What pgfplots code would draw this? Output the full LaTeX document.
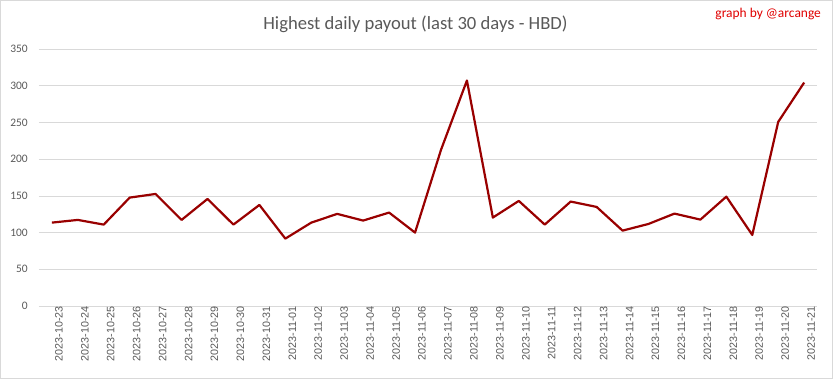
\documentclass[border=0pt]{standalone}
\usepackage{pgfplots}
\pgfplotsset{compat=1.18}
\usepackage{fontspec}
\setmainfont{Carlito}
\newfontfamily\xlabfont{Liberation Sans}
\definecolor{linecol}{HTML}{990000}
\definecolor{gridcol}{HTML}{D9D9D9}
\definecolor{txtcol}{HTML}{595959}
\definecolor{sigcol}{HTML}{E00000}
\begin{document}
\begin{tikzpicture}
\draw[gridcol, line width=0.75bp] (0.5bp,0.5bp) rectangle (832.5bp,378.5bp);
\begin{axis}[
  at={(39bp,73bp)}, anchor=south west,
  scale only axis, width=778bp, height=256.7bp,
  xmin=-0.5, xmax=29.5, ymin=0, ymax=350,
  ytick={0,50,...,350},
  xtick={0,...,29},
  xticklabels={2023-10-23,2023-10-24,2023-10-25,2023-10-26,2023-10-27,2023-10-28,2023-10-29,2023-10-30,2023-10-31,2023-11-01,2023-11-02,2023-11-03,2023-11-04,2023-11-05,2023-11-06,2023-11-07,2023-11-08,2023-11-09,2023-11-10,2023-11-11,2023-11-12,2023-11-13,2023-11-14,2023-11-15,2023-11-16,2023-11-17,2023-11-18,2023-11-19,2023-11-20,2023-11-21},
  x tick label style={rotate=90, anchor=east, font=\xlabfont\fontsize{10.8}{13}\selectfont, text=txtcol, inner sep=0pt, yshift=-7bp},
  y tick label style={font=\fontsize{11.5}{13}\selectfont, text=txtcol, inner sep=0pt, xshift=-11bp},
  /pgf/number format/assume math mode=true,
  major tick length=0pt,
  axis line style={draw=none},
  ymajorgrids, grid style={gridcol, line width=0.75bp},
  clip=false,
]
\addplot[linecol, line width=2.2bp, line join=round] coordinates {
(0,113.6) (1,117.3) (2,110.9) (3,147.7) (4,152.7) (5,117.3) (6,145.9) (7,110.9) (8,137.7) (9,91.8)
(10,113.6) (11,125.5) (12,116.4) (13,127.3) (14,100) (15,212.7) (16,307.3) (17,120.5) (18,143.2) (19,110.9)
(20,142.3) (21,135) (22,102.7) (23,111.8) (24,125.9) (25,117.7) (26,149) (27,96.8) (28,250.9) (29,304.5)
};
\end{axis}
\node[anchor=base, inner sep=0pt, text=txtcol, font=\fontsize{18.7}{22}\selectfont] at (415.5bp,349bp) {Highest daily payout (last 30 days - HBD)};
\node[anchor=base east, inner sep=0pt, text=sigcol, font=\fontsize{13.5}{15}\selectfont] at (821bp,361bp) {graph by @arcange};
\end{tikzpicture}
\end{document}
